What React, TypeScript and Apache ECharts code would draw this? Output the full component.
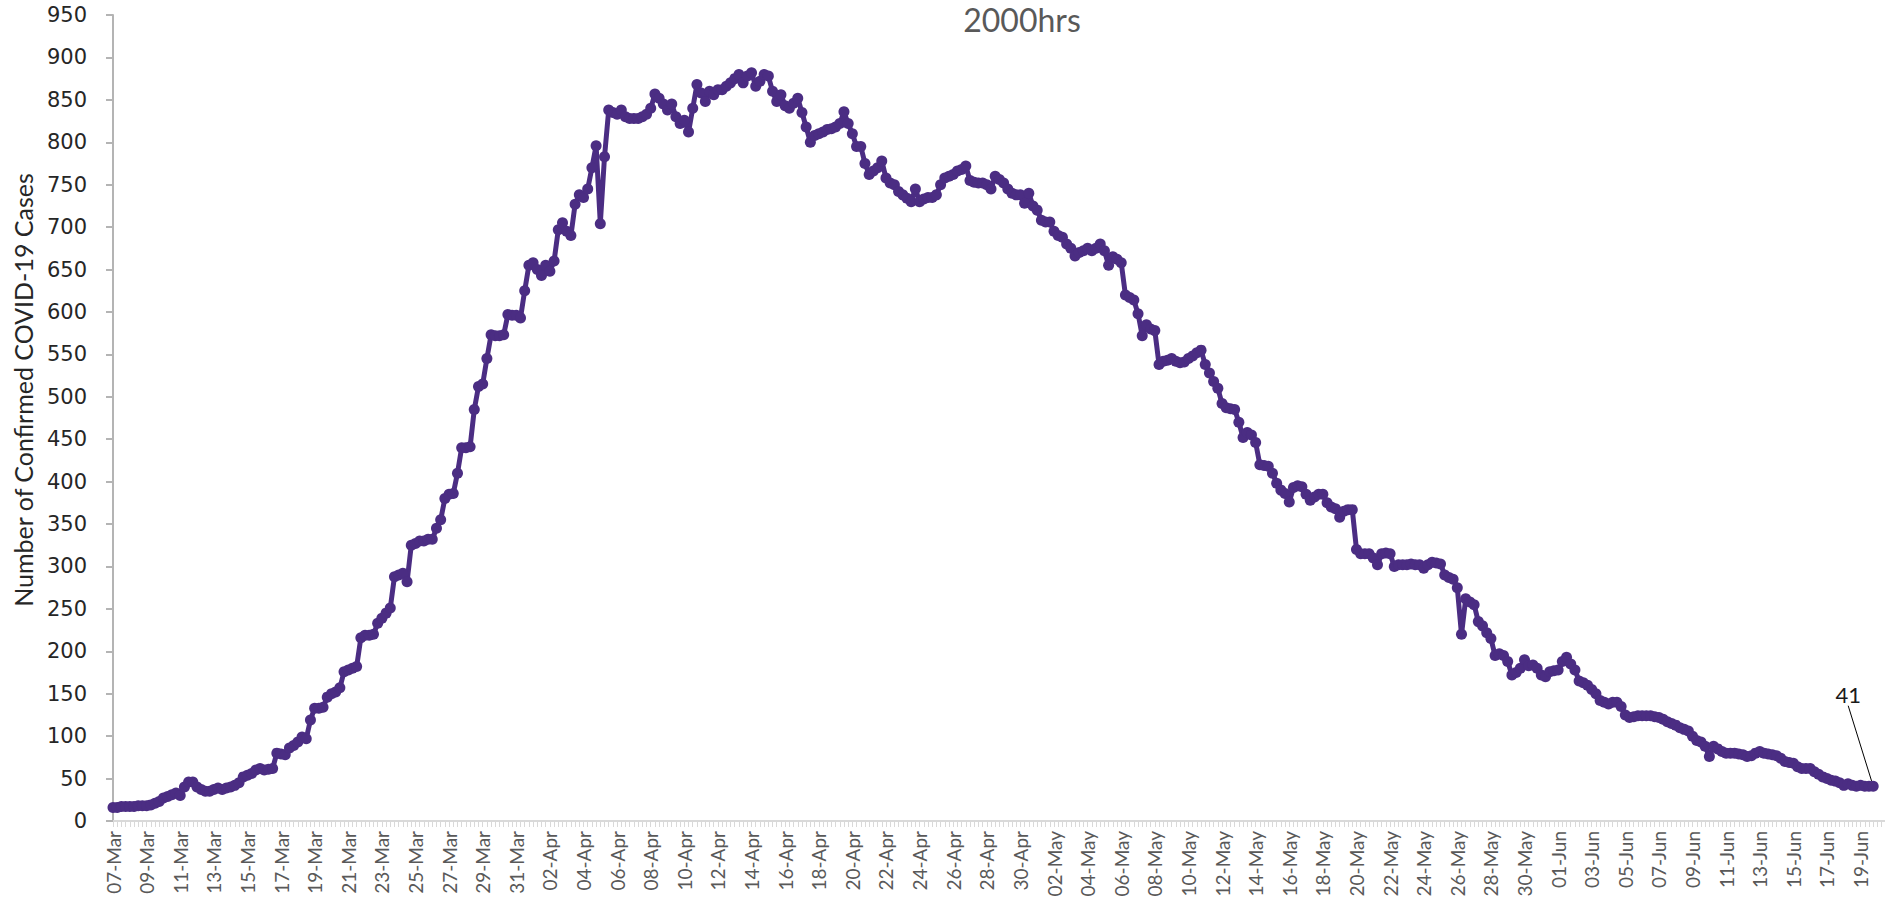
import React, { useEffect, useRef } from "react";
import * as echarts from "echarts";

const MONTH_NAMES = ["Jan", "Feb", "Mar", "Apr", "May", "Jun", "Jul", "Aug", "Sep", "Oct", "Nov", "Dec"];
const START_DATE = [2020, 2, 7];
const AXIS_DAYS = 106;
const SLOTS_PER_DAY = 4;

// four readings per day, 07-Mar .. 31-Mar
const marchValues = [
  16, 16, 17, 17,
  17, 17, 18, 18,
  18, 19, 21, 23,
  27, 29, 31, 33,
  30, 40, 46, 46,
  40, 37, 35, 35,
  37, 39, 37, 39,
  40, 42, 45, 52,
  54, 56, 60, 62,
  60, 61, 62, 80,
  79, 78, 86, 89,
  93, 99, 97, 119,
  133, 133, 134, 146,
  150, 152, 157, 176,
  178, 180, 182, 216,
  219, 219, 220, 233,
  239, 245, 251, 288,
  290, 292, 282, 325,
  327, 330, 330, 332,
  332, 345, 355, 380,
  385, 386, 410, 440,
  440, 441, 485, 512,
  515, 545, 573, 572,
  572, 573, 597, 596,
  596, 593, 625, 655,
];

const aprilValues = [
  658, 650, 643, 655,
  648, 660, 697, 705,
  695, 690, 727, 738,
  735, 745, 770, 796,
  704, 783, 838, 835,
  833, 838, 830, 828,
  828, 828, 830, 833,
  840, 857, 852, 845,
  838, 845, 830, 822,
  826, 812, 840, 868,
  858, 848, 860, 856,
  862, 862, 866, 870,
  875, 880, 870, 878,
  882, 866, 872, 880,
  878, 860, 848, 856,
  843, 840, 846, 852,
  835, 818, 800, 808,
  810, 812, 815, 816,
  818, 822, 836, 822,
  810, 795, 795, 775,
  762, 766, 770, 778,
  758, 752, 750, 742,
  738, 734, 730, 745,
  730, 733, 735, 735,
  738, 750, 758, 760,
  762, 766, 768, 772,
  755, 753, 752, 752,
  750, 745, 760, 756,
  752, 745, 740, 738,
  738, 728, 740, 725,
];

const mayValues = [
  720, 708, 706, 706,
  695, 690, 688, 680,
  675, 666, 670, 672,
  675, 672, 675, 680,
  672, 655, 665, 662,
  658, 620, 617, 614,
  598, 572, 585, 580,
  578, 538, 542, 543,
  545, 542, 540, 541,
  545, 548, 552, 555,
  538, 528, 518, 510,
  492, 487, 486, 485,
  470, 452, 458, 455,
  446, 420, 419, 418,
  410, 398, 390, 386,
  376, 393, 395, 394,
  385, 378, 382, 385,
  385, 375, 370, 368,
  358, 365, 367, 367,
  320, 315, 315, 315,
  310, 302, 315, 316,
  315, 300, 302, 302,
  302, 303, 302, 302,
  298, 302, 305, 304,
  303, 290, 287, 285,
  275, 220, 262, 258,
  255, 235, 230, 222,
  215, 195, 197, 195,
  188, 172, 175, 180,
  190, 183, 184, 180,
  172, 170, 176, 177,
];

const juneValues = [
  178, 188, 193, 185,
  178, 165, 163, 160,
  155, 150, 142, 140,
  138, 140, 140, 135,
  125, 122, 123, 124,
  124, 124, 124, 123,
  122, 120, 117, 115,
  113, 110, 108, 106,
  100, 95, 93, 88,
  76, 88, 85, 82,
  80, 80, 80, 79,
  78, 76, 77, 80,
  82, 80, 79, 78,
  77, 74, 70, 69,
  68, 64, 62, 62,
  62, 58, 55, 52,
  50, 48, 47, 45,
  42, 44, 42, 41,
  42, 41, 41, 41,
];

const yTicks = { min: 0, max: 950, interval: 50 };

const dayLabels: string[] = [];
for (let d = 0; d < AXIS_DAYS; d++) {
  const dt = new Date(START_DATE[0], START_DATE[1], START_DATE[2] + d);
  dayLabels.push(String(dt.getDate()).padStart(2, "0") + "-" + MONTH_NAMES[dt.getMonth()]);
}
const categories: string[] = [];
dayLabels.forEach((l) => {
  for (let k = 0; k < SLOTS_PER_DAY; k++) categories.push(l + "#" + k);
});

const values = [...marchValues, ...aprilValues, ...mayValues, ...juneValues];
const LINE_COLOR = "#4b2d83";

export default function App() {
  const ref = useRef<HTMLDivElement>(null);
  useEffect(() => {
    if (!ref.current) return;
    const chart = echarts.init(ref.current, undefined, { renderer: "svg" });
    const last = values.length - 1;
    const data = values.map((v, i) =>
      i === last
        ? {
            value: v,
            label: {
              show: true,
              position: "top",
              formatter: String(v),
              color: "#1a1a1a",
              fontFamily: "Lato",
              fontSize: 22,
            },
          }
        : v
    );
    chart.setOption({
      animation: false,
      backgroundColor: "#ffffff",
      grid: { left: 113, right: 20, top: 15, bottom: 81, containLabel: false },
      xAxis: {
        type: "category",
        data: categories,
        boundaryGap: false,
        axisLine: { lineStyle: { color: "#d9d9d9", width: 2 } },
        axisTick: { show: true, interval: 0, length: 6, lineStyle: { color: "#d9d9d9", width: 1 } },
        axisLabel: {
          interval: SLOTS_PER_DAY * 2 - 1,
          rotate: 90,
          margin: 10,
          color: "#595959",
          fontFamily: "Lato",
          fontSize: 19,
          formatter: (v: string) => v.split("#")[0],
        },
        splitLine: { show: false },
      },
      yAxis: {
        type: "value",
        min: yTicks.min,
        max: yTicks.max,
        interval: yTicks.interval,
        axisLine: { show: true, lineStyle: { color: "#b4b4b4", width: 2 } },
        axisTick: { show: true, length: 7, lineStyle: { color: "#b4b4b4", width: 2 } },
        axisLabel: { margin: 26, color: "#262626", fontFamily: "DejaVu Sans", fontSize: 21 },
        splitLine: { show: false },
      },
      series: [
        {
          type: "line",
          data,
          symbol: "circle",
          symbolSize: 11,
          showAllSymbol: true,
          lineStyle: { color: LINE_COLOR, width: 5 },
          itemStyle: { color: LINE_COLOR },
          labelLine: { show: true, lineStyle: { color: "#000000", width: 1 } },
          labelLayout: { dx: -25, dy: -70 },
          z: 3,
        },
      ],
      graphic: [
        {
          type: "text",
          x: 1022,
          y: 19,
          style: {
            text: "2000hrs",
            fontFamily: "Lato",
            fontSize: 32,
            fill: "#595959",
            align: "center",
            verticalAlign: "middle",
          },
        },
        {
          type: "text",
          x: 23,
          y: 390,
          rotation: Math.PI / 2,
          style: {
            text: "Number of Confirmed COVID-19 Cases",
            fontFamily: "Lato",
            fontSize: 25,
            fill: "#262626",
            align: "center",
            verticalAlign: "middle",
          },
        },
      ],
    });
    return () => chart.dispose();
  }, []);
  return (
    <div
      style={{
        position: "fixed",
        left: 0,
        top: 0,
        width: "100vw",
        height: "100vh",
        overflow: "hidden",
        background: "#ffffff",
      }}
    >
      <div ref={ref} style={{ width: 1910, height: 902 }} />
    </div>
  );
}
